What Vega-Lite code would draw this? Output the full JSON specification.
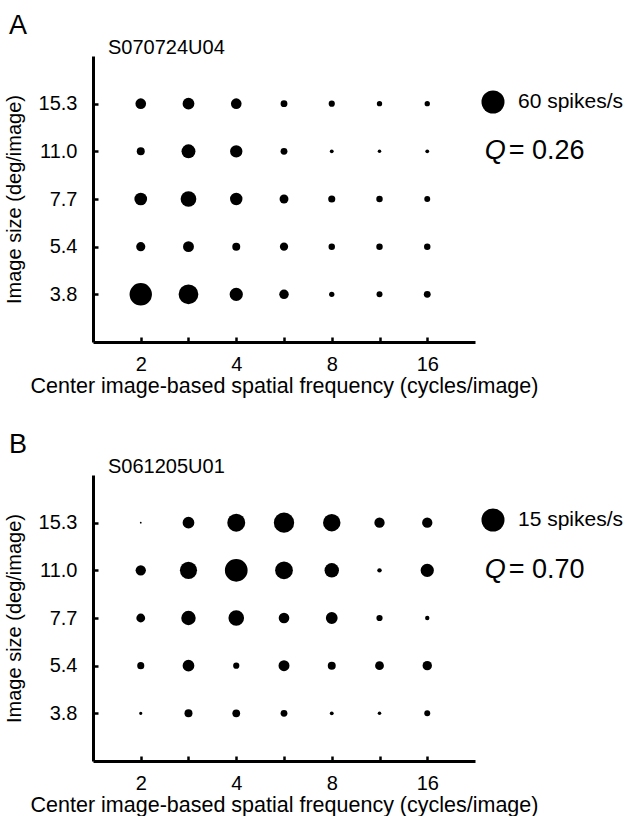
{
  "$schema": "https://vega.github.io/schema/vega-lite/v6.json",
  "background": "white",
  "padding": {"left": 4, "top": 12, "right": 0, "bottom": 0},
  "spacing": 34,
  "config": {
    "font": "Liberation Sans",
    "view": {"stroke": null},
    "axis": {
      "domainColor": "black", "domainWidth": 3, "tickColor": "black", "tickWidth": 2.5, "tickSize": -5,
      "grid": false, "labelFontSize": 20, "labelColor": "black", "labelFont": "Liberation Sans",
      "titleFontSize": 20, "titleColor": "black", "titleFontWeight": "normal", "titleFont": "Liberation Sans",
      "labelOverlap": false
    },
    "title": {"font": "Liberation Sans", "fontWeight": "normal", "color": "black"}
  },
  "resolve": {"scale": {"size": "independent", "x": "independent", "y": "independent"}, "legend": {"size": "independent"}},
  "datasets": {
    "a": [
      {"sf": 2, "image_size": "15.3", "rate": 12.8}, {"sf": 2.828, "image_size": "15.3", "rate": 15.7}, {"sf": 4, "image_size": "15.3", "rate": 12.8}, {"sf": 5.657, "image_size": "15.3", "rate": 5.3}, {"sf": 8, "image_size": "15.3", "rate": 4.3}, {"sf": 11.314, "image_size": "15.3", "rate": 3.2}, {"sf": 16, "image_size": "15.3", "rate": 3.2},
      {"sf": 2, "image_size": "11.0", "rate": 7.2}, {"sf": 2.828, "image_size": "11.0", "rate": 21.9}, {"sf": 4, "image_size": "11.0", "rate": 17.4}, {"sf": 5.657, "image_size": "11.0", "rate": 5.3}, {"sf": 8, "image_size": "11.0", "rate": 1.6}, {"sf": 11.314, "image_size": "11.0", "rate": 1.4}, {"sf": 16, "image_size": "11.0", "rate": 1.6},
      {"sf": 2, "image_size": "7.7", "rate": 18.2}, {"sf": 2.828, "image_size": "7.7", "rate": 27.8}, {"sf": 4, "image_size": "7.7", "rate": 17.4}, {"sf": 5.657, "image_size": "7.7", "rate": 8.9}, {"sf": 8, "image_size": "7.7", "rate": 5.7}, {"sf": 11.314, "image_size": "7.7", "rate": 4.7}, {"sf": 16, "image_size": "7.7", "rate": 4.0},
      {"sf": 2, "image_size": "5.4", "rate": 9.4}, {"sf": 2.828, "image_size": "5.4", "rate": 13.4}, {"sf": 4, "image_size": "5.4", "rate": 7.2}, {"sf": 5.657, "image_size": "5.4", "rate": 7.7}, {"sf": 8, "image_size": "5.4", "rate": 4.7}, {"sf": 11.314, "image_size": "5.4", "rate": 4.7}, {"sf": 16, "image_size": "5.4", "rate": 4.7},
      {"sf": 2, "image_size": "3.8", "rate": 56.8}, {"sf": 2.828, "image_size": "3.8", "rate": 44.1}, {"sf": 4, "image_size": "3.8", "rate": 20.0}, {"sf": 5.657, "image_size": "3.8", "rate": 10.2}, {"sf": 8, "image_size": "3.8", "rate": 3.2}, {"sf": 11.314, "image_size": "3.8", "rate": 4.0}, {"sf": 16, "image_size": "3.8", "rate": 5.3}
    ],
    "b": [
      {"sf": 2, "image_size": "15.3", "rate": 0.09}, {"sf": 2.828, "image_size": "15.3", "rate": 3.9}, {"sf": 4, "image_size": "15.3", "rate": 9.1}, {"sf": 5.657, "image_size": "15.3", "rate": 11.7}, {"sf": 8, "image_size": "15.3", "rate": 8.6}, {"sf": 11.314, "image_size": "15.3", "rate": 3.0}, {"sf": 16, "image_size": "15.3", "rate": 3.0},
      {"sf": 2, "image_size": "11.0", "rate": 3.0}, {"sf": 2.828, "image_size": "11.0", "rate": 8.3}, {"sf": 4, "image_size": "11.0", "rate": 14.6}, {"sf": 5.657, "image_size": "11.0", "rate": 8.9}, {"sf": 8, "image_size": "11.0", "rate": 5.9}, {"sf": 11.314, "image_size": "11.0", "rate": 0.55}, {"sf": 16, "image_size": "11.0", "rate": 5.0},
      {"sf": 2, "image_size": "7.7", "rate": 2.2}, {"sf": 2.828, "image_size": "7.7", "rate": 5.9}, {"sf": 4, "image_size": "7.7", "rate": 6.9}, {"sf": 5.657, "image_size": "7.7", "rate": 3.2}, {"sf": 8, "image_size": "7.7", "rate": 3.9}, {"sf": 11.314, "image_size": "7.7", "rate": 1.09}, {"sf": 16, "image_size": "7.7", "rate": 0.55},
      {"sf": 2, "image_size": "5.4", "rate": 1.42}, {"sf": 2.828, "image_size": "5.4", "rate": 3.9}, {"sf": 4, "image_size": "5.4", "rate": 1.09}, {"sf": 5.657, "image_size": "5.4", "rate": 3.4}, {"sf": 8, "image_size": "5.4", "rate": 1.8}, {"sf": 11.314, "image_size": "5.4", "rate": 2.2}, {"sf": 16, "image_size": "5.4", "rate": 2.5},
      {"sf": 2, "image_size": "3.8", "rate": 0.30}, {"sf": 2.828, "image_size": "3.8", "rate": 1.8}, {"sf": 4, "image_size": "3.8", "rate": 1.7}, {"sf": 5.657, "image_size": "3.8", "rate": 1.3}, {"sf": 8, "image_size": "3.8", "rate": 0.41}, {"sf": 11.314, "image_size": "3.8", "rate": 0.36}, {"sf": 16, "image_size": "3.8", "rate": 1.0}
    ]
  },
  "vconcat": [
    {
      "title": {"text": "A", "anchor": "start", "frame": "bounds", "fontSize": 27, "offset": -2, "dx": 5},
      "vconcat": [
        {
          "width": 382, "height": 286,
          "title": {"text": "S070724U04", "anchor": "start", "frame": "group", "dx": 15, "fontSize": 20, "offset": -2},
          "layer": [
            {
              "data": {"name": "a"},
              "mark": {"type": "circle", "color": "black", "opacity": 1},
              "encoding": {
                "x": {"field": "sf", "type": "quantitative", "scale": {"type": "log", "domain": [1.4142, 22.627], "nice": false},
                  "axis": {"title": "Center image-based spatial frequency (cycles/image)", "titleFontSize": 21.5, "values": [2, 2.828, 4, 5.657, 8, 11.314, 16],
                    "labelExpr": "indexof([2,4,8,16], datum.value) >= 0 ? format(datum.value, 'd') : ''", "labelPadding": 17, "titlePadding": 1}},
                "y": {"field": "image_size", "type": "ordinal", "scale": {"type": "point", "domain": ["15.3", "11.0", "7.7", "5.4", "3.8"], "padding": 1},
                  "axis": {"title": "Image size (deg/image)", "labelPadding": 21, "titlePadding": 14}},
                "size": {"field": "rate", "type": "quantitative", "scale": {"domain": [0, 60], "range": [0, 531]},
                  "legend": {"values": [60], "title": null, "orient": "none", "legendX": 388, "legendY": 34, "padding": 0,
                    "labelExpr": "datum.label + ' spikes/s'", "labelFontSize": 21, "labelOffset": 13, "labelColor": "black",
                    "symbolType": "circle", "symbolFillColor": "black", "symbolStrokeWidth": 0, "symbolOpacity": 1}}
              }
            },
            {
              "data": {"values": [{}]},
              "mark": {"type": "text", "fontStyle": "italic", "fontSize": 27, "align": "left", "baseline": "middle", "color": "black"},
              "encoding": {"x": {"datum": 24.3, "type": "quantitative"}, "y": {"datum": "11.0", "type": "ordinal"}, "text": {"value": "Q"}}
            },
            {
              "data": {"values": [{}]},
              "mark": {"type": "text", "fontSize": 27, "align": "left", "baseline": "middle", "color": "black"},
              "encoding": {"x": {"datum": 28.9, "type": "quantitative"}, "y": {"datum": "11.0", "type": "ordinal"}, "text": {"value": "= 0.26"}}
            }
          ]
        }
      ]
    },
    {
      "title": {"text": "B", "anchor": "start", "frame": "bounds", "fontSize": 27, "offset": -2, "dx": 5},
      "vconcat": [
        {
          "width": 382, "height": 286,
          "title": {"text": "S061205U01", "anchor": "start", "frame": "group", "dx": 15, "fontSize": 20, "offset": -2},
          "layer": [
            {
              "data": {"name": "b"},
              "mark": {"type": "circle", "color": "black", "opacity": 1},
              "encoding": {
                "x": {"field": "sf", "type": "quantitative", "scale": {"type": "log", "domain": [1.4142, 22.627], "nice": false},
                  "axis": {"title": "Center image-based spatial frequency (cycles/image)", "titleFontSize": 21.5, "values": [2, 2.828, 4, 5.657, 8, 11.314, 16],
                    "labelExpr": "indexof([2,4,8,16], datum.value) >= 0 ? format(datum.value, 'd') : ''", "labelPadding": 17, "titlePadding": 1}},
                "y": {"field": "image_size", "type": "ordinal", "scale": {"type": "point", "domain": ["15.3", "11.0", "7.7", "5.4", "3.8"], "padding": 1},
                  "axis": {"title": "Image size (deg/image)", "labelPadding": 21, "titlePadding": 14}},
                "size": {"field": "rate", "type": "quantitative", "scale": {"domain": [0, 15], "range": [0, 531]},
                  "legend": {"values": [15], "title": null, "orient": "none", "legendX": 388, "legendY": 33, "padding": 0,
                    "labelExpr": "datum.label + ' spikes/s'", "labelFontSize": 21, "labelOffset": 13, "labelColor": "black",
                    "symbolType": "circle", "symbolFillColor": "black", "symbolStrokeWidth": 0, "symbolOpacity": 1}}
              }
            },
            {
              "data": {"values": [{}]},
              "mark": {"type": "text", "fontStyle": "italic", "fontSize": 27, "align": "left", "baseline": "middle", "color": "black"},
              "encoding": {"x": {"datum": 24.3, "type": "quantitative"}, "y": {"datum": "11.0", "type": "ordinal"}, "text": {"value": "Q"}}
            },
            {
              "data": {"values": [{}]},
              "mark": {"type": "text", "fontSize": 27, "align": "left", "baseline": "middle", "color": "black"},
              "encoding": {"x": {"datum": 28.9, "type": "quantitative"}, "y": {"datum": "11.0", "type": "ordinal"}, "text": {"value": "= 0.70"}}
            }
          ]
        }
      ]
    }
  ]
}
